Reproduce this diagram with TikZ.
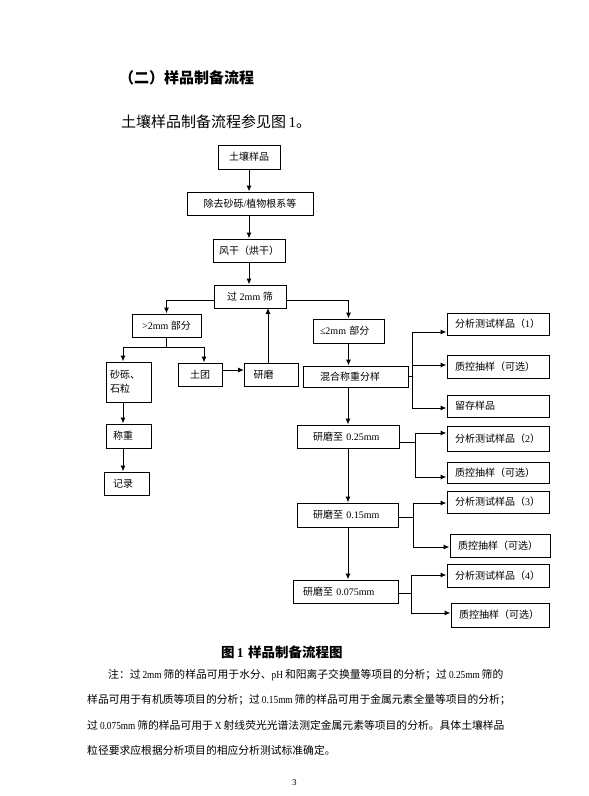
\documentclass[tikz,border=0pt]{standalone}
\usepackage{fontspec}
\setmainfont{Noto Sans CJK SC}
\newfontfamily\tnrfont{Liberation Serif}
\newfontfamily\tnrcfont[FakeStretch=0.86]{Liberation Serif}
\newcommand\tnr[1]{{\tnrfont #1}}
\newcommand\tnc[1]{{\tnrcfont #1}}
\newcommand\gapz{\hspace{2pt plus 1pt}}
\XeTeXlinebreaklocale "zh"
\XeTeXlinebreakskip=0pt plus 1pt
\usetikzlibrary{arrows.meta}
\tikzset{
  bx/.style={draw, line width=1pt, inner sep=0pt, font=\fontsize{10}{14}\selectfont, minimum height=23pt},
  bxl/.style args={#1/#2}{bx, text width=#1, inner xsep=#2, align=left},
  arr/.style={line width=1pt, -{Latex[length=6pt,width=5pt]}},
  ln/.style={line width=1pt},
  txt/.style={inner sep=0pt, anchor=west},
}
\begin{document}
\begin{tikzpicture}[x=1pt,y=-1pt]
\fill[white] (0,0) rectangle (589,796);
\useasboundingbox (0,0) rectangle (589,796);

% headings
\node[txt, font=\fontsize{15}{18}\selectfont\bfseries] (h1) at (119,78) {（二）样品制备流程};
\node[txt, font=\fontsize{15}{18}\selectfont] (h2) at (121,122) {土壤样品制备流程参见图\,\tnr{1}。};

% main column
\node[bx, minimum width=62pt, minimum height=24pt] (soil) at (249,157) {土壤样品};
\node[bx, minimum width=126pt] (rem) at (250,203.5) {除去砂砾\tnr{/}植物根系等};
\node[bx, minimum width=72pt] (dry) at (249,250.5) {风干（烘干）};
\node[bx, minimum width=72pt] (sv) at (250,296.5) {过\tnr{ 2mm }筛};

% left branch
\node[bx, minimum width=69pt] (gt) at (166.5,325.5) {\tnr{>2mm }部分};
\node[bxl=37pt/4pt, minimum height=40pt] (grv) at (128.5,382) {砂砾、\\石粒};
\node[bx, minimum width=44pt] (clod) at (200,374.5) {土团};
\node[bxl=36pt/9pt] (gr) at (271.5,374.5) {研磨};
\node[bxl=31pt/7pt, minimum height=24pt] (wt) at (128.5,436) {称重};
\node[bxl=27pt/9pt] (rec) at (126.5,483.5) {记录};

% right column
\node[bxl=57pt/7pt, minimum height=24pt] (le2) at (348.5,331) {\tnr{≤2mm }部分};
\node[bxl=71pt/17pt, minimum height=21pt] (mix) at (355.5,376.5) {混合称重分样};
\node[bxl=70pt/16pt] (g025) at (348,436.5) {研磨至\tnr{ 0.25mm}};
\node[bxl=69pt/16pt, minimum height=24pt] (g015) at (347.5,515) {研磨至\tnr{ 0.15mm}};
\node[bxl=85pt/10pt] (g0075) at (345.5,591.5) {研磨至\tnr{ 0.075mm}};

% outputs
\node[bxl=86pt/8pt, minimum height=22pt] (a1) at (498,324) {分析测试样品（\tnr{1}）};
\node[bxl=86pt/8pt] (q1) at (498,366.5) {质控抽样（可选）};
\node[bxl=86pt/8pt, minimum height=22pt] (kp) at (498,406) {留存样品};
\node[bxl=86pt/8pt, minimum height=25pt] (a2) at (498,438.5) {分析测试样品（\tnr{2}）};
\node[bxl=86pt/8pt, minimum height=21pt] (q2) at (498,472.5) {质控抽样（可选）};
\node[bxl=86pt/8pt, minimum height=22pt] (a3) at (498,502) {分析测试样品（\tnr{3}）};
\node[bxl=84pt/8pt] (q3) at (500,545.5) {质控抽样（可选）};
\node[bxl=86pt/8pt] (a4) at (498,575.5) {分析测试样品（\tnr{4}）};
\node[bxl=82pt/8pt, minimum height=24pt] (q4) at (500,615) {质控抽样（可选）};

% helper coordinates
\coordinate (svL) at (169,300);
\coordinate (svR) at (348,300);
\coordinate (grup) at (268,308);
\coordinate (jLa) at (123,347);
\coordinate (jLb) at (204,347);
\coordinate (cg) at (222,370);
\coordinate (b1t) at (412,332);
\coordinate (b1m) at (412,365);
\coordinate (b1b) at (412,408);
\coordinate (b2s) at (415,442);
\coordinate (b2t) at (415,433);
\coordinate (b2b) at (415,477);
\coordinate (b3s) at (413,517);
\coordinate (b3t) at (413,503);
\coordinate (b3b) at (413,547);
\coordinate (b4s) at (411,593);
\coordinate (b4t) at (411,575);
\coordinate (b4b) at (411,613);

% main column connectors
\draw[arr] (soil.south) -- (soil.south |- rem.north);
\draw[arr] (rem.south -| soil) -- (dry.north);
\draw[arr] (dry.south) -- (dry.south |- sv.north);

% left branch connectors
\draw[arr] (sv.west |- svL) -| (gt.north);
\draw[ln] (gt.south) -- (gt.south |- jLa);
\draw[ln] (jLa) -- (jLb);
\draw[arr] (jLa) -- (jLa |- grv.north);
\draw[arr] (jLb) -- (jLb |- clod.north);
\draw[arr] (clod.east |- cg) -- (gr.west |- cg);
\draw[arr] (gr.north -| grup) -- (grup);
\draw[arr] (grv.south -| jLa) -- (wt.north -| jLa);
\draw[arr] (wt.south -| jLa) -- (rec.north -| jLa);

% right column connectors
\draw[arr] (sv.east |- svR) -| (le2.north);
\draw[arr] (le2.south) -- (le2.south |- mix.north);
\draw[arr] (mix.south -| g025) -- (g025.north);
\draw[arr] (g025.south) -- (g025.south |- g015.north);
\draw[arr] (g015.south -| g025) -- (g0075.north -| g025);

% branch 1
\draw[ln] (mix.east) -- (mix.east -| b1t);
\draw[ln] (b1t) -- (b1b);
\draw[arr] (b1t) -- (b1t -| a1.west);
\draw[arr] (b1m) -- (b1m -| q1.west);
\draw[arr] (b1b) -- (b1b -| kp.west);
% branch 2
\draw[ln] (g025.east |- b2s) -- (b2s);
\draw[ln] (b2t) -- (b2b);
\draw[arr] (b2t) -- (b2t -| a2.west);
\draw[arr] (b2b) -- (b2b -| q2.west);
% branch 3
\draw[ln] (g015.east |- b3s) -- (b3s);
\draw[ln] (b3t) -- (b3b);
\draw[arr] (b3t) -- (b3t -| a3.west);
\draw[arr] (b3b) -- (b3b -| q3.west);
% branch 4
\draw[ln] (g0075.east |- b4s) -- (b4s);
\draw[ln] (b4t) -- (b4b);
\draw[arr] (b4t) -- (b4t -| a4.west);
\draw[arr] (b4b) -- (b4b -| q4.west);

% caption and note
\node[txt, font=\fontsize{13.5}{16}\selectfont\bfseries] (cap) at (221,652) {图\,\tnr{\bfseries 1}\,\,样品制备流程图};
\begin{scope}[every node/.style={txt, font=\fontsize{10.8}{13}\selectfont}]
\node (n1) at (108,675) {\hbox to 394pt{注：过\gapz\tnc{2mm}\gapz 筛的样品可用于水分、\tnc{pH}\gapz 和阳离子交换量等项目的分析；过\gapz\tnc{0.25mm}\gapz 筛的}};
\node (n2) at (87,700) {\hbox to 420pt{样品可用于有机质等项目的分析；过\gapz\tnc{0.15mm}\gapz 筛的样品可用于金属元素全量等项目的分析；}};
\node (n3) at (87,725) {\hbox to 414pt{过\gapz\tnc{0.075mm}\gapz 筛的样品可用于\gapz\tnc{X}\gapz 射线荧光光谱法测定金属元素等项目的分析。具体土壤样品}};
\node (n4) at (87,750) {粒径要求应根据分析项目的相应分析测试标准确定。};
\end{scope}
\node[txt, font=\fontsize{9}{11}\selectfont\tnrfont] (pg) at (292,783) {3};
\end{tikzpicture}
\end{document}
